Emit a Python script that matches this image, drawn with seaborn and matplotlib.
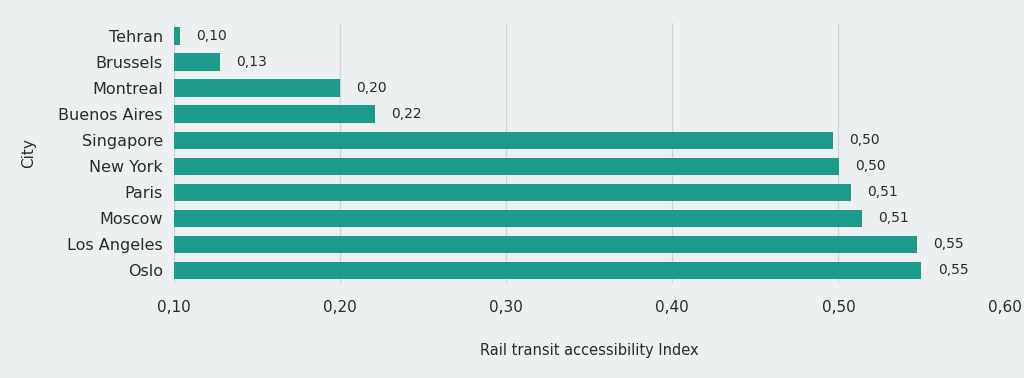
import matplotlib.pyplot as plt
import seaborn as sns
import pandas as pd
from matplotlib.ticker import FuncFormatter

cities = ['Tehran', 'Brussels', 'Montreal', 'Buenos Aires', 'Singapore',
          'New York', 'Paris', 'Moscow', 'Los Angeles', 'Oslo']
index_values = [0.1036, 0.1276, 0.2001, 0.2207, 0.4965,
                0.5003, 0.5073, 0.5143, 0.547, 0.550]

df = pd.DataFrame({'City': cities, 'Index': index_values})

bg = '#ecf0f1'
bar_color = '#1c9a8a'
text_color = '#2b2b2b'

sns.set_style('white')
plt.rcParams['font.family'] = ['DejaVu Sans']

fig = plt.figure(figsize=(10.24, 3.78), dpi=100, facecolor=bg)
ax = fig.add_axes([0.170, 0.251, 0.811, 0.688], facecolor=bg)

sns.barplot(data=df, x='Index', y='City', orient='h', color=bar_color,
            width=0.66, saturation=1, linewidth=0, ax=ax)

# value labels with comma decimals
for i, v in enumerate(index_values):
    ax.text(v + 0.0098, i, f'{v:.2f}'.replace('.', ','), va='center', ha='left',
            fontsize=10, color=text_color)

ax.set_xlim(0.10, 0.60)
ax.set_xticks([0.10, 0.20, 0.30, 0.40, 0.50, 0.60])
ax.xaxis.set_major_formatter(FuncFormatter(lambda x, p: f'{x:.2f}'.replace('.', ',')))
ax.grid(axis='x', color='#cfd3d4', linewidth=0.9)
ax.set_axisbelow(True)
for s in ax.spines.values():
    s.set_visible(False)

ax.tick_params(axis='x', length=3, width=0.9, color='#cfd3d4', pad=9.5,
               labelsize=11, labelcolor=text_color)
ax.tick_params(axis='y', length=0, pad=8, labelsize=11.5, labelcolor=text_color)

ax.set_xlabel('Rail transit accessibility Index', fontsize=10.5, color=text_color, labelpad=20)
ax.set_ylabel('City', fontsize=11, color=text_color, labelpad=16)

fig.savefig('out.png', dpi=100, facecolor=bg)
